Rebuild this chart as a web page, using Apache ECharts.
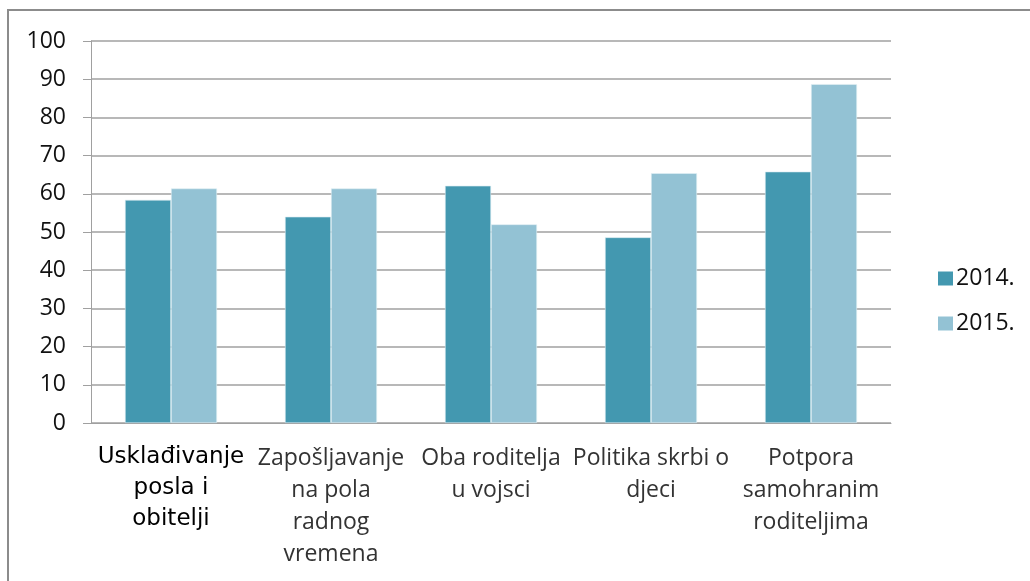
<!DOCTYPE html>
<html>
<head>
<meta charset="utf-8">
<script src="https://cdn.jsdelivr.net/npm/echarts@6/dist/echarts.min.js"></script>
<style>
  html, body { margin: 0; padding: 0; background: #fff; }
  #main { width: 1030px; height: 581px; }
</style>
</head>
<body>
<div id="main"></div>
<script>
// kategorije i vrijednosti
var categories = [
    'Usklađivanje\nposla i\nobitelji',
    'Zapošljavanje\nna pola\nradnog\nvremena',
    'Oba roditelja\nu vojsci',
    'Politika skrbi o\ndjeci',
    'Potpora\nsamohranim\nroditeljima'
];
var seriesNames = ['2014.', '2015.'];
var values2014 = [58.4, 54.0, 62.1, 48.6, 65.8];
var values2015 = [61.4, 61.4, 52.0, 65.4, 88.7];
var yTicks = { min: 0, max: 100, interval: 10 };

var font = '"Open Sans", Lato, sans-serif';
var gridColor = '#a0a0a0';

var chart = echarts.init(document.getElementById('main'));
chart.setOption({
    animation: false,
    textStyle: { fontFamily: font },
    graphic: [{
        type: 'rect',
        shape: { x: 8, y: 10, width: 1200, height: 800 },
        style: { fill: 'none', stroke: '#8c8c8c', lineWidth: 2 },
        silent: true
    }],
    grid: { left: 91, right: 139, top: 41, bottom: 158 },
    legend: {
        orient: 'vertical',
        left: 933,
        top: 262,
        itemWidth: 15,
        itemHeight: 14,
        itemGap: 22,
        icon: 'rect',
        itemStyle: { borderWidth: 0 },
        textStyle: { fontFamily: font, fontSize: 23, color: '#111', padding: [0, 0, 0, -2] },
        data: seriesNames
    },
    xAxis: {
        type: 'category',
        data: categories,
        axisLine: { lineStyle: { color: gridColor, width: 1 } },
        axisTick: { length: 9, lineStyle: { color: gridColor } },
        axisLabel: {
            interval: 0,
            margin: 19,
            fontFamily: font,
            fontSize: 23,
            lineHeight: 32,
            color: '#333',
            formatter: function (v, i) {
                return i === 0 ? '{a|' + v.split('\n').join('}\n{a|') + '}' : v;
            },
            rich: {
                a: { fontFamily: '"DejaVu Sans", sans-serif', fontSize: 23, lineHeight: 31, color: '#000' }
            }
        }
    },
    yAxis: {
        type: 'value',
        min: yTicks.min,
        max: yTicks.max,
        interval: yTicks.interval,
        axisLine: { show: true, lineStyle: { color: gridColor, width: 1 } },
        axisTick: { show: true, length: 8, lineStyle: { color: gridColor } },
        splitLine: { lineStyle: { color: gridColor, width: 1.5 } },
        axisLabel: { margin: 25, fontFamily: font, fontSize: 23, color: '#111' }
    },
    series: [{
        name: seriesNames[0],
        type: 'bar',
        data: values2014,
        barGap: '0%',
        barCategoryGap: '42.5%',
        itemStyle: { color: '#4398b0', borderColor: '#d8ebf1', borderWidth: 0.6 }
    }, {
        name: seriesNames[1],
        type: 'bar',
        data: values2015,
        barGap: '0%',
        barCategoryGap: '42.5%',
        itemStyle: { color: '#93c2d4', borderColor: '#e3f0f5', borderWidth: 0.6 }
    }]
});
</script>
</body>
</html>
